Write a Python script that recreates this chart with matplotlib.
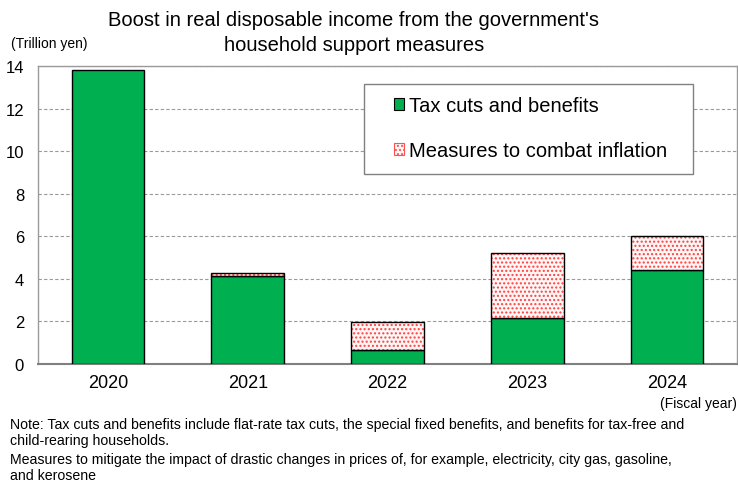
import matplotlib
matplotlib.use("Agg")
import matplotlib.pyplot as plt
from matplotlib.patches import Patch, Rectangle

plt.rcParams['font.family'] = ['Liberation Sans', 'DejaVu Sans']

years = ["2020", "2021", "2022", "2023", "2024"]
tax_cuts = [13.8, 4.15, 0.65, 2.18, 4.4]
inflation = [0.0, 0.12, 1.34, 3.03, 1.63]
yticks = [0, 2, 4, 6, 8, 10, 12, 14]

GREEN = "#00AF50"
W, H = 738, 485

fig = plt.figure(figsize=(7.38, 4.85), dpi=100)
ax = fig.add_axes([38/W, 1 - 365/H, 699/W, (365-67)/H])

x = list(range(len(years)))
w = 0.52
ax.bar(x, tax_cuts, width=w, color=GREEN, edgecolor="black", linewidth=1.0, zorder=3)
ax.bar(x, inflation, width=w, bottom=tax_cuts, color="#fff6f6", edgecolor="#ff4040",
       hatch="....", linewidth=0, zorder=3)
for xi, b, h in zip(x, tax_cuts, inflation):
    if h > 0:
        ax.bar(xi, h, width=w, bottom=b, fill=False, edgecolor="black", linewidth=1.0, zorder=4)

ax.set_xlim(-0.5, len(years) - 0.5)
ax.set_ylim(0, 14)
ax.set_yticks(yticks)
ax.set_yticklabels([str(t) for t in yticks], fontsize=12)
ax.set_xticks(x)
ax.set_xticklabels(years, fontsize=13)
ax.tick_params(axis='x', length=0, pad=7)
ax.tick_params(axis='y', length=0, pad=10)
ax.yaxis.grid(True, linestyle=(0, (3, 2)), color="#999999", linewidth=0.8, zorder=0)
for s in ax.spines.values():
    s.set_color("#9a9a9a")
    s.set_linewidth(1.0)
ax.spines['bottom'].set_color("#808080")
ax.spines['bottom'].set_linewidth(1.5)

# legend frame
frame = Rectangle((364/W, 1 - 175/H), (693-364)/W, (175-85)/H, transform=fig.transFigure,
                  facecolor="white", edgecolor="#808080", linewidth=1.0, zorder=5)
fig.add_artist(frame)

handles = [Patch(facecolor=GREEN, edgecolor="black", linewidth=0.8),
           Patch(facecolor="#fff6f6", edgecolor="#ff5050", hatch="....", linewidth=0.8)]
leg = fig.legend(handles, ["Tax cuts and benefits", "Measures to combat inflation"],
                 loc="center left", bbox_to_anchor=(394/W, 1 - 129/H),
                 fontsize=14.5, frameon=False,
                 handlelength=0.5, handleheight=0.5, handletextpad=0.25,
                 labelspacing=1.3, borderpad=0, borderaxespad=0)
leg.set_zorder(6)

fig.text(354/W, 1 - 33/H, "Boost in real disposable income from the government's\nhousehold support measures",
         ha="center", va="center", fontsize=14.5, linespacing=1.4)
fig.text(11/W, 1 - 44/H, "(Trillion yen)", ha="left", va="center", fontsize=10)
fig.text(737/W, 1 - 404/H, "(Fiscal year)", ha="right", va="center", fontsize=10)
fig.text(10/W, 1 - 433/H,
         "Note: Tax cuts and benefits include flat-rate tax cuts, the special fixed benefits, and benefits for tax-free and\nchild-rearing households.",
         ha="left", va="center", fontsize=10.2, linespacing=1.15)
fig.text(10/W, 1 - 468/H,
         "Measures to mitigate the impact of drastic changes in prices of, for example, electricity, city gas, gasoline,\nand kerosene",
         ha="left", va="center", fontsize=10.2, linespacing=1.15)

fig.savefig("out.png", dpi=100)
